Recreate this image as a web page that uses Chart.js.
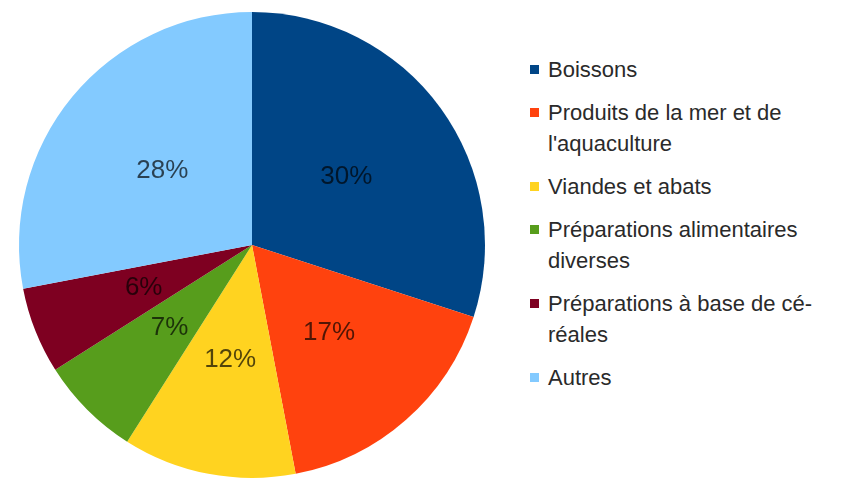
<!DOCTYPE html>
<html lang="fr">
<head>
<meta charset="utf-8">
<script src="https://cdn.jsdelivr.net/npm/chart.js@4/dist/chart.umd.min.js"></script>
<style>
  body { margin: 0; background: #fff; width: 845px; height: 486px; overflow: hidden; position: relative; }
  #wrap { position: absolute; left: 0; top: 0; width: 504px; height: 486px; }
  #legend { position: absolute; left: 530px; top: 54px; font-family: 'Liberation Sans', Arial, sans-serif; font-size: 22px; line-height: 31px; color: #2a2a2a; }
  .item { display: flex; align-items: flex-start; margin-bottom: 12px; }
  .box { width: 9px; height: 9px; margin-top: 11px; margin-right: 9px; flex: none; }
  .txt { width: 292px; }
</style>
</head>
<body>
<div id="wrap"><canvas id="myChart"></canvas></div>
<div id="legend"></div>
<script>
// categories et parts (%)
const categories = [
  'Boissons',
  'Produits de la mer et de l\'aquaculture',
  'Viandes et abats',
  'Préparations alimentaires diverses',
  'Préparations à base de cé\u00ADréales',
  'Autres'
];
const values = [30, 17, 12, 7, 6, 28];
const colors = ['#004586', '#ff420e', '#ffd320', '#579d1c', '#7e0021', '#83caff'];

// étiquettes en % au milieu de chaque part
const pctLabels = {
  id: 'pctLabels',
  afterDatasetsDraw(chart) {
    const ctx = chart.ctx;
    const meta = chart.getDatasetMeta(0);
    ctx.save();
    ctx.font = '26px "Liberation Sans", Arial, sans-serif';
    ctx.fillStyle = 'rgba(0, 0, 0, 0.68)';
    ctx.textAlign = 'center';
    ctx.textBaseline = 'middle';
    meta.data.forEach((arc, i) => {
      const p = arc.tooltipPosition();
      ctx.fillText(chart.data.datasets[0].data[i] + '%', p.x, p.y);
    });
    ctx.restore();
  }
};

const ctx = document.getElementById('myChart').getContext('2d');
const myChart = new Chart(ctx, {
  type: 'pie',
  data: {
    labels: categories,
    datasets: [{
      data: values,
      backgroundColor: colors,
      borderWidth: 0
    }]
  },
  options: {
    responsive: true,
    maintainAspectRatio: false,
    animation: false,
    layout: { padding: { left: 19, right: 19, top: 10, bottom: 6 } },
    plugins: {
      legend: { display: false },
      tooltip: { enabled: false }
    }
  },
  plugins: [pctLabels]
});

// légende HTML à droite
const legend = document.getElementById('legend');
categories.forEach((name, i) => {
  const item = document.createElement('div');
  item.className = 'item';
  const box = document.createElement('span');
  box.className = 'box';
  box.style.background = colors[i];
  const txt = document.createElement('span');
  txt.className = 'txt';
  txt.textContent = name;
  item.appendChild(box);
  item.appendChild(txt);
  legend.appendChild(item);
});
</script>
</body>
</html>
